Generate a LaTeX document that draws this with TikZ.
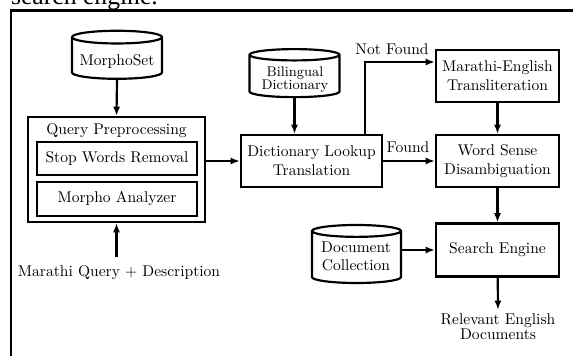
\documentclass[tikz,border=0pt]{standalone}
\usepackage{fontspec}
\newfontfamily\timesfont{Liberation Serif}
\usetikzlibrary{shapes.geometric,arrows.meta}
\begin{document}
\begin{tikzpicture}[x=0.6431pt,y=-0.6431pt,
  line width=1.4pt,
  box/.style={draw,rectangle,align=center,inner sep=0pt,font=\fontsize{10}{12}\selectfont},
  cyl/.style={draw,cylinder,shape border rotate=90,shape aspect=0.17,inner sep=0pt,align=center},
  lbl/.style={inner sep=0pt,align=center,font=\fontsize{10}{12}\selectfont},
  arr/.style={-{Latex[length=6pt,width=4.6pt]}}]
\useasboundingbox (0,0) rectangle (574,356);
% top text and frame
\node[anchor=base west,inner sep=0pt,font=\timesfont\fontsize{16.5}{18}\selectfont] (cap) at (10,4.5) {search engine.};
\coordinate (fbl) at (11,356);
\coordinate (ftl) at (11,10.5);
\coordinate (ftr) at (573,10.5);
\draw (fbl) -- (ftl) -- (ftr);
% left part
\node[cyl,minimum width=57.9pt,minimum height=30.9pt,font=\fontsize{10}{12}\selectfont] (ms) at (117,58.5) {\phantom{MorphoSet}};
\node[lbl] (mst) at (117,61.8) {MorphoSet};
\node[box,minimum width=113.8pt,minimum height=67.5pt] (qp) at (116.5,169.5) {};
\node[lbl] (qpt) at (116.5,131) {Query Preprocessing};
\node[box,minimum width=102.9pt,minimum height=21.2pt] (sw) at (117,158.5) {Stop Words Removal};
\node[box,minimum width=102.9pt,minimum height=21.9pt] (ma) at (117,199) {Morpho Analyzer};
\node[lbl] (mq) at (119,273) {Marathi Query + Description};
% middle
\node[cyl,minimum width=57.9pt,minimum height=30.9pt,font=\fontsize{9}{8.4}\selectfont] (bd) at (294.5,76.5) {\phantom{Bilingual}\\\phantom{Dictionary}};
\node[lbl,font=\fontsize{9}{8.4}\selectfont] (bdt) at (295,80) {Bilingual\\Dictionary};
\node[box,minimum width=90.7pt,minimum height=33.4pt] (dl) at (311.5,161) {Dictionary Lookup\\Translation};
\node[cyl,minimum width=57.2pt,minimum height=37.3pt,font=\fontsize{10}{11.4}\selectfont] (dc) at (356.5,257.5) {\phantom{Document}\\\phantom{Collection}};
\node[lbl,font=\fontsize{10}{11.4}\selectfont] (dct) at (356,256.5) {Document\\Collection};
% right
\node[box,minimum width=79.1pt,minimum height=33.4pt] (met) at (497.5,76) {Marathi-English\\Transliteration};
\node[box,minimum width=79.1pt,minimum height=33.4pt] (wsd) at (497.5,161) {Word Sense\\Disambiguation};
\node[box,minimum width=79.1pt,minimum height=34.1pt] (se) at (497.5,250) {Search Engine};
\node[lbl,font=\fontsize{10}{9.6}\selectfont] (red) at (498,327) {Relevant English\\Documents};
% connectors
\draw[arr] (ms.south) -- (qp.north);
\draw[arr] ([yshift=5pt]mq.north -| qp.south) -- (qp.south);
\draw[arr] (qp.east |- dl.west) -- (dl.west);
\draw[arr] (bd.south) -- (bd.south |- dl.north);
\coordinate (nf) at (365,62);
\draw[arr] (dl.north -| nf) -- (nf) -- (nf -| met.west);
\node[lbl] (nft) at (392,49) {Not Found};
\draw[arr] (dl.east) -- (wsd.west);
\node[lbl] (ft) at (408,147) {Found};
\draw[arr] (met) -- (wsd);
\draw[arr] (wsd) -- (se);
\draw[arr] (dc.east |- se.west) -- (se.west);
\draw[arr] (se) -- ([yshift=2pt]red.north);
\end{tikzpicture}
\end{document}
